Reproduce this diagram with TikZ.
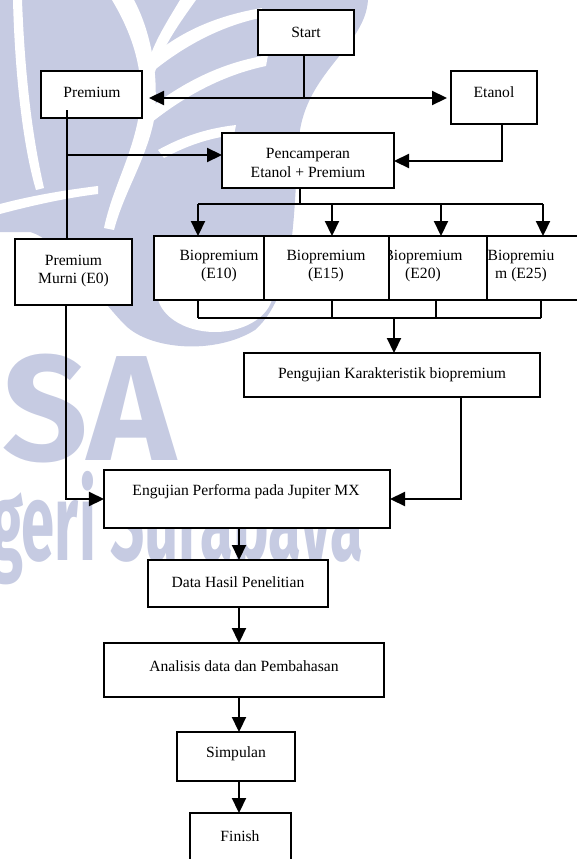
\documentclass[tikz,border=0pt]{standalone}
\usepackage{fontspec}
\usepackage{graphicx}
\setmainfont{Liberation Serif}
\newfontfamily\wmfont{Fira Sans}
\usetikzlibrary{arrows.meta}
\definecolor{wm}{RGB}{198,203,226}
\begin{document}
\begin{tikzpicture}[x=1bp,y=-1bp,
  font=\fontsize{15.6bp}{18.5bp}\selectfont,
  box/.style={draw, line width=1.7bp, fill=white, inner sep=0pt, outer sep=0pt},
  txt/.style={inner sep=0pt, align=center},
  conn/.style={line width=2.2bp},
  arr/.style={line width=2.2bp, -{Triangle[length=15bp,width=14bp]}},
  wmtext/.style={inner sep=0pt, text=wm},
]
\clip (0,0) rectangle (577,859);
% ---------- watermark ----------
\fill[wm] (0,0) -- (368,0) .. controls (365,45) and (310,70) .. (300,130)
  .. controls (292,200) and (300,290) .. (255,330)
  .. controls (215,355) and (150,350) .. (125,325)
  .. controls (100,300) and (60,240) .. (30,232) -- (0,232) -- cycle;
\fill[white] (13,0) .. controls (15,80) and (24,150) .. (36,190) -- (44,188)
  .. controls (33,140) and (25,80) .. (22,0) -- cycle;
\fill[white] (112,0) .. controls (136,40) and (146,80) .. (138,120)
  .. controls (130,160) and (112,190) .. (104,228) -- (114,230)
  .. controls (124,192) and (146,160) .. (154,120)
  .. controls (160,75) and (150,30) .. (134,0) -- cycle;
\fill[white] (180,0) .. controls (165,25) and (152,45) .. (146,70) -- (155,72)
  .. controls (162,48) and (178,25) .. (196,0) -- cycle;
\fill[white] (145,62) .. controls (180,30) and (220,15) .. (262,8) -- (260,18)
  .. controls (222,26) and (185,45) .. (152,72) -- cycle;
\fill[white] (145,112) .. controls (185,80) and (225,62) .. (268,55) -- (266,66)
  .. controls (228,74) and (190,92) .. (152,122) -- cycle;
\fill[white] (158,150) .. controls (185,135) and (210,128) .. (236,125) -- (234,135)
  .. controls (210,138) and (188,145) .. (164,158) -- cycle;
\fill[white] (0,204) .. controls (30,196) and (65,190) .. (98,186) -- (98,194)
  .. controls (65,198) and (30,206) .. (0,214) -- cycle;
\fill[white] (215,292) ellipse [x radius=58, y radius=40];
\node[wmtext, anchor=base east, font=\wmfont\bfseries\fontsize{150bp}{150bp}\selectfont] (wm1) at (176,460) {SA};
\node[wmtext, anchor=base west, font=\wmfont\bfseries\fontsize{110bp}{110bp}\selectfont] (wm2) at (-10,560) {\resizebox{373bp}{\height}{geri Surabaya}};
% ---------- boxes ----------
\node[box, minimum width=96bp, minimum height=45bp] (start) at (306,32.5) {};
\node[txt] (tstart) at (306,32.5) {Start};
\node[box, minimum width=101bp, minimum height=47bp] (prem) at (91.5,94.5) {};
\node[txt] (tprem) at (92,92.5) {Premium};
\node[box, minimum width=86bp, minimum height=53bp] (etanol) at (494,97.5) {};
\node[txt] (tetanol) at (494,92.5) {Etanol};
\node[box, minimum width=172bp, minimum height=55bp] (pen) at (308,160.5) {};
\node[txt] (tpen) at (308,163) {Pencamperan\\Etanol + Premium};
\node[box, minimum width=117bp, minimum height=66bp] (murni) at (73.5,272) {};
\node[txt] (tmurni) at (73.5,271) {Premium\\Murni (E0)};
\node[box, minimum width=110bp, minimum height=64bp] (e10) at (209,268) {};
\node[txt] (te10) at (219,266) {Biopremium\\(E10)};
\node[box, minimum width=112bp, minimum height=64bp] (e20) at (431,268) {};
\node[txt] (te20) at (423,266) {Biopremium\\(E20)};
\node[box, minimum width=113bp, minimum height=64bp] (e25) at (543.5,268) {};
\node[txt] (te25) at (521,266) {Biopremiu\\m (E25)};
\node[box, minimum width=125bp, minimum height=64bp] (e15) at (326.5,268) {};
\node[txt] (te15) at (326,266) {Biopremium\\(E15)};
\node[box, minimum width=296bp, minimum height=44bp] (peng) at (392,375) {};
\node[txt] (tpeng) at (392,375) {Pengujian Karakteristik biopremium};
\node[box, minimum width=286bp, minimum height=58bp] (eng) at (247,499) {};
\node[txt] (teng) at (246,492) {Engujian Performa pada Jupiter MX};
\node[box, minimum width=180bp, minimum height=47bp] (data) at (238,583.5) {};
\node[txt] (tdata) at (238,582) {Data Hasil Penelitian};
\node[box, minimum width=280bp, minimum height=54bp] (ana) at (244,670) {};
\node[txt] (tana) at (244,666) {Analisis data dan Pembahasan};
\node[box, minimum width=118bp, minimum height=49bp] (simp) at (236,756.5) {};
\node[txt] (tsimp) at (236,754) {Simpulan};
\node[box, minimum width=101bp, minimum height=67bp] (fin) at (240.5,846.5) {};
\node[txt] (tfin) at (240,836) {Finish};
% ---------- connectors ----------
\coordinate (j1) at (304,98);
\draw[conn] (j1 |- start.south) -- (j1);
\draw[arr, shorten >=7bp] (j1) -- (j1 -| prem.east);
\draw[arr, shorten >=4bp] (j1) -- (j1 -| etanol.west);
\coordinate (p0) at (67,110);
\coordinate (p1) at (67,155);
\draw[conn] (p0) -- (p0 |- murni.north);
\draw[arr] (p1) -- (p1 -| pen.west);
\coordinate (e1) at (502,161);
\draw[arr] (e1 |- etanol.south) -- (e1) -- (e1 -| pen.east);
\coordinate (b0) at (300,204);
\coordinate (bL) at (198,204);
\coordinate (b2) at (332,204);
\coordinate (b3) at (441,204);
\coordinate (bR) at (543,204);
\draw[conn] (b0 |- pen.south) -- (b0);
\draw[conn] (bL) -- (bR);
\draw[arr] (bL) -- (bL |- e10.north);
\draw[arr] (b2) -- (b2 |- e15.north);
\draw[arr] (b3) -- (b3 |- e20.north);
\draw[arr] (bR) -- (bR |- e25.north);
\coordinate (cL) at (198,318);
\coordinate (c2) at (332,318);
\coordinate (c3) at (436,318);
\coordinate (cR) at (541,318);
\coordinate (c0) at (394,318);
\draw[conn] (cL |- e10.south) -- (cL);
\draw[conn] (c2 |- e15.south) -- (c2);
\draw[conn] (c3 |- e20.south) -- (c3);
\draw[conn] (cR |- e25.south) -- (cR);
\draw[conn] (cL) -- (cR);
\draw[arr] (c0) -- (c0 |- peng.north);
\coordinate (m1) at (66,499);
\draw[arr] (m1 |- murni.south) -- (m1) -- (m1 -| eng.west);
\coordinate (k1) at (461,499);
\draw[arr] (k1 |- peng.south) -- (k1) -- (k1 -| eng.east);
\coordinate (ax) at (239,0);
\draw[arr] (ax |- eng.south) -- (ax |- data.north);
\draw[arr] (ax |- data.south) -- (ax |- ana.north);
\draw[arr] (ax |- ana.south) -- (ax |- simp.north);
\draw[arr] (ax |- simp.south) -- (ax |- fin.north);
\end{tikzpicture}
\end{document}
